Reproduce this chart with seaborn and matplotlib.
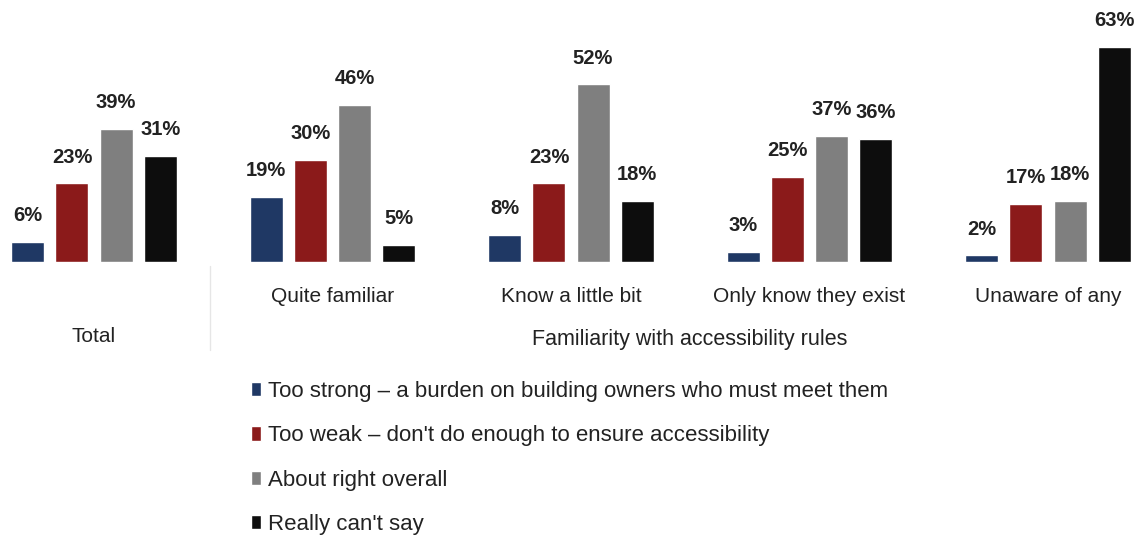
import matplotlib
matplotlib.use("Agg")
import matplotlib.pyplot as plt
import matplotlib.transforms as mtransforms
import seaborn as sns
import pandas as pd

groups = ["Total", "Quite familiar", "Know a little bit", "Only know they exist", "Unaware of any"]
series = [
    "Too strong \u2013 a burden on building owners who must meet them",
    "Too weak \u2013 don't do enough to ensure accessibility",
    "About right overall",
    "Really can't say",
]
too_strong = [6, 19, 8, 3, 2]
too_weak = [23, 30, 23, 25, 17]
about_right = [39, 46, 52, 37, 18]
cant_say = [31, 5, 18, 36, 63]
colors = ["#1f3864", "#8b1a1a", "#7f7f7f", "#0d0d0d"]

rows = []
for name, vals in zip(series, [too_strong, too_weak, about_right, cant_say]):
    for g, v in zip(groups, vals):
        rows.append({"group": g, "series": name, "value": v})
df = pd.DataFrame(rows)

sns.set_theme(style="white")
plt.rcParams["font.family"] = ["Liberation Sans", "DejaVu Sans"]

fig = plt.figure(figsize=(11.37, 5.4), dpi=100)
ax = fig.add_axes([0.0, (540 - 262) / 540, 1.0, 239 / 540])

sns.barplot(data=df, x="group", y="value", hue="series", order=groups,
            hue_order=series, palette=colors, width=0.74, gap=0.25,
            saturation=1, legend=True, ax=ax)

ax.set_xlim(-94 / 238.5, (1137 - 94) / 238.5)
ax.set_ylim(0, 70)
for s in ax.spines.values():
    s.set_visible(False)
ax.set_xticks([])
ax.set_yticks([])
ax.set_xlabel("")
ax.set_ylabel("")

for cont, vals in zip(ax.containers, [too_strong, too_weak, about_right, cant_say]):
    ax.bar_label(cont, labels=[f"{v}%" for v in vals], padding=12,
                 fontsize=14.5, fontweight="bold", color="#222222")

trans = mtransforms.blended_transform_factory(ax.transData, ax.transAxes)
for i, g in enumerate(groups):
    dy = -75 if i == 0 else -34
    ax.annotate(g, xy=(i, 0), xycoords=trans, xytext=(0, dy),
                textcoords="offset pixels", ha="center", va="center",
                fontsize=15, color="#222222")

fig.text(690 / 1137, 1 - 340 / 540, "Familiarity with accessibility rules",
         ha="center", va="center", fontsize=15.5, color="#222222")

# thin divider between the overall column and the breakdown
fig.add_artist(plt.Line2D([210 / 1137, 210 / 1137], [1 - 350 / 540, 1 - 266 / 540],
                          color="#e6e6e6", linewidth=1))

handles, labels = ax.get_legend_handles_labels()
ax.get_legend().remove()
fig.legend(handles, labels, loc="upper left", bbox_to_anchor=(251 / 1137, 1 - 381 / 540),
           frameon=False, fontsize=16, handlelength=0.45, handleheight=0.6,
           handletextpad=0.3, labelspacing=1.05, borderaxespad=0, borderpad=0,
           labelcolor="#222222")

fig.savefig("out.png", dpi=100, facecolor="white")
